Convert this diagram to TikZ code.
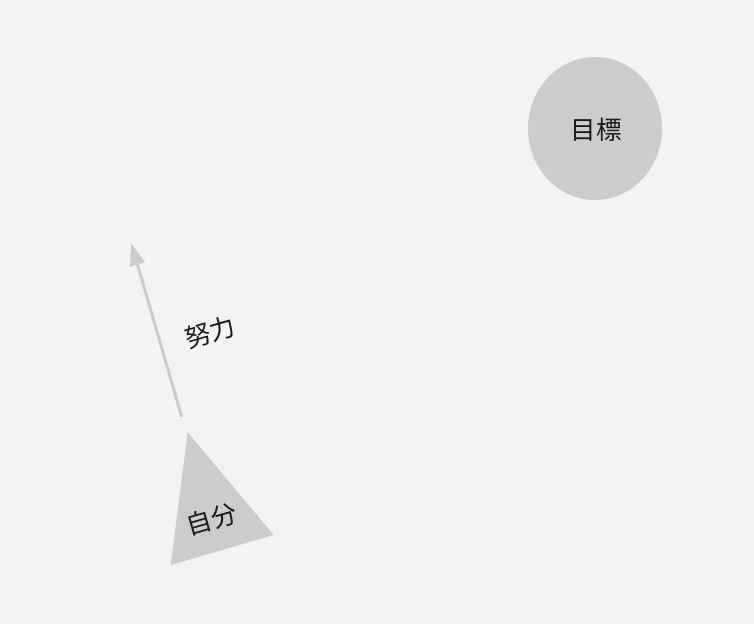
\documentclass[tikz,border=0pt]{standalone}
\usepackage{fontspec}
\newfontfamily\cjk{Noto Sans CJK JP}
\usetikzlibrary{arrows.meta,shapes.geometric}
\definecolor{bgcol}{HTML}{F3F3F3}
\definecolor{shapecol}{HTML}{CCCCCC}
\definecolor{inkcol}{HTML}{1A1A1A}
\begin{document}
\begin{tikzpicture}[x=1pt,y=-1pt,
  lbl/.style={font=\cjk\fontsize{25.5}{30}\selectfont, text=inkcol, inner sep=0pt},
  conn/.style={draw=shapecol, line width=3pt, -{Triangle[length=22pt,width=15pt]}}]
\fill[bgcol] (0,0) rectangle (754,624);
\useasboundingbox (0,0) rectangle (754,624);
% goal
\fill[shapecol] (595,128.5) ellipse [x radius=67, y radius=71.5];
\node[lbl] (goal) at (596,130) {目標};
% self triangle
\coordinate (t1) at (187.7,432.3);
\coordinate (t2) at (273.7,535);
\coordinate (t3) at (170.7,565);
\fill[shapecol] (t1) -- (t2) -- (t3) -- cycle;
\node[lbl, rotate=16] (self) at (211.5,519) {自分};
% effort arrow
\coordinate (a0) at (181.7,416.7);
\coordinate (a1) at (131.3,243.3);
\draw[conn] (a0) -- (a1);
\node[lbl, rotate=16] (effort) at (210,332) {努力};
\end{tikzpicture}
\end{document}
